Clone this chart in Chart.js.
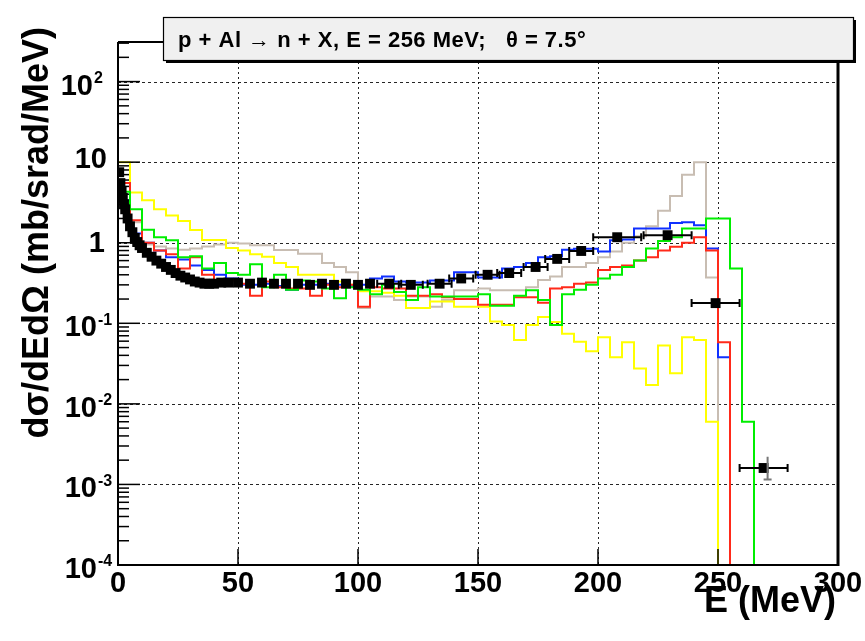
<!DOCTYPE html>
<html>
<head>
<meta charset="utf-8">
<script src="https://cdn.jsdelivr.net/npm/chart.js@4/dist/chart.umd.min.js"></script>
<style>
html,body{margin:0;padding:0;background:#fff;}
#wrap{width:865px;height:641px;position:relative;}
</style>
</head>
<body>
<div id="wrap"><canvas id="c" width="865" height="641"></canvas></div>
<script>
// ---------------- data ----------------
const binEdges = [0,5,10,15,20,25,30,35,40,45,50,55,60,65,70,75,80,85,90,95,100,105,110,115,120,125,130,135,140,145,150,155,160,165,170,175,180,185,190,195,200,205,210,215,220,225,230,235,240,245,250,255,260,265];

const yellowVals = [10,4.2,3.36,2.6,2.18,1.86,1.44,1.08,1.08,0.86,0.8,0.72,0.67,0.56,0.50,0.40,0.40,0.40,0.33,0.30,0.25,0.25,0.24,0.22,0.155,0.155,0.186,0.186,0.16,0.16,0.16,0.105,0.095,0.062,0.095,0.12,0.104,0.074,0.059,0.045,0.067,0.038,0.058,0.0275,0.0172,0.053,0.024,0.067,0.062,0.006];
const tanVals = [3.0,1.8,0.95,0.9,0.85,0.82,0.85,0.9,0.95,1.0,0.98,0.93,0.93,0.81,0.81,0.73,0.73,0.56,0.50,0.43,0.155,0.215,0.215,0.194,0.215,0.215,0.16,0.194,0.258,0.258,0.27,0.258,0.258,0.258,0.28,0.344,0.38,0.50,0.50,0.56,0.66,0.78,1.0,1.2,1.6,2.5,3.8,7,10,0.37];
const redVals = [5.5,1.9,1.0,0.8,0.72,0.48,0.66,0.40,0.34,0.34,0.31,0.22,0.33,0.28,0.27,0.27,0.22,0.30,0.28,0.30,0.16,0.28,0.27,0.27,0.22,0.22,0.23,0.21,0.20,0.20,0.17,0.17,0.17,0.21,0.21,0.18,0.27,0.28,0.31,0.32,0.46,0.50,0.52,0.60,0.66,0.80,0.89,1.0,1.17,0.8,0.058];
const blueVals = [3.36,1.3,1.0,0.8,0.66,0.62,0.52,0.46,0.40,0.36,0.30,0.30,0.31,0.29,0.26,0.30,0.30,0.31,0.30,0.29,0.30,0.36,0.38,0.33,0.32,0.32,0.34,0.34,0.43,0.43,0.37,0.37,0.48,0.50,0.56,0.66,0.68,0.82,0.84,0.84,0.78,1.07,1.1,1.5,1.5,1.5,1.76,1.8,1.65,0.85,0.038];
const greenVals = [4.3,2.6,1.45,1.17,1.07,0.66,0.68,0.48,0.56,0.42,0.40,0.54,0.28,0.40,0.26,0.34,0.33,0.27,0.205,0.28,0.26,0.23,0.30,0.245,0.194,0.28,0.215,0.215,0.215,0.215,0.23,0.165,0.165,0.22,0.258,0.194,0.095,0.23,0.26,0.30,0.36,0.40,0.50,0.60,0.85,1.05,1.17,1.5,1.5,2.0,2.0,0.48,0.006];

const dataE   = [0.5,1,1.5,2,2.5,3,4,5,6,7,8,9,10,12,14,16,18,20,22,24,26,28,30,32,34,36,38,40,43,46,50,55,60,65,70,75,80,85,90,95,100,105,113,122,134,143,154,163,174,183,193,208,229,249,269];
const dataV   = [7.5,5.5,4.4,3.6,3.0,2.6,2.0,1.6,1.35,1.15,1.02,0.93,0.86,0.75,0.67,0.6,0.55,0.5,0.46,0.42,0.39,0.37,0.35,0.33,0.32,0.31,0.31,0.31,0.32,0.32,0.32,0.31,0.32,0.31,0.31,0.31,0.30,0.31,0.30,0.31,0.30,0.31,0.31,0.30,0.31,0.36,0.40,0.42,0.50,0.63,0.79,1.17,1.24,0.178,0.0016];
const dataXErr= [0,0,0,0,0,0,0,0,0,0,0,0,0,0,0,0,0,0,0,0,0,0,0,0,0,0,0,0,0,0,0,0,0,0,0,0,0,0,0,0,0,0,5,5,5,5,5,5,5,5,5,10,10,10,10];
const dataYLo = [null,null,null,null,null,null,null,null,null,null,null,null,null,null,null,null,null,null,null,null,null,null,null,null,null,null,null,null,null,null,null,null,null,null,null,null,null,null,null,null,null,null,null,null,null,null,null,null,null,null,null,null,null,null,0.00115];
const dataYHi = [null,null,null,null,null,null,null,null,null,null,null,null,null,null,null,null,null,null,null,null,null,null,null,null,null,null,null,null,null,null,null,null,null,null,null,null,null,null,null,null,null,null,null,null,null,null,null,null,null,null,null,null,null,null,0.0022];

const xTickValues = [0,50,100,150,200,250,300];
const yDecadeExps = [-4,-3,-2,-1,0,1,2];
const titleText = 'p + Al \u2192 n + X, E = 256 MeV;   \u03B8 = 7.5\u00B0';
const yTitle = 'd\u03C3/dEd\u03A9 (mb/srad/MeV)';
const xTitle = 'E (MeV)';

// ---------------- helpers ----------------
const FONT = '"Liberation Sans", Arial, Helvetica, sans-serif';
const FLOOR = 1e-6;
function histPoints(vals) {
  const pts = [];
  let last = -1;
  vals.forEach((v, i) => { if (v != null) { pts.push({x: binEdges[i], y: v}); last = i; } });
  pts.push({x: binEdges[last + 1], y: vals[last]});
  pts.push({x: binEdges[last + 1], y: FLOOR});
  return pts;
}
function histDs(vals, color, order, width) {
  return {type: 'line', data: histPoints(vals), borderColor: color, borderWidth: width || 2,
          stepped: true, pointRadius: 0, fill: false, order: order, clip: 0, tension: 0};
}

const decorPlugin = {
  id: 'decor',
  beforeDatasetsDraw(chart) {
    const ctx = chart.ctx, a = chart.chartArea;
    const xs = chart.scales.x, ys = chart.scales.y;
    ctx.save();
    ctx.strokeStyle = 'rgba(0,0,0,0.85)';
    ctx.lineWidth = 1;
    ctx.setLineDash([3, 3]);
    yDecadeExps.forEach(e => {
      if (e === -4) return;
      const y = Math.round(ys.getPixelForValue(Math.pow(10, e))) + 0.5;
      ctx.beginPath(); ctx.moveTo(a.left, y); ctx.lineTo(a.right, y); ctx.stroke();
    });
    ctx.setLineDash([2, 3]);
    xTickValues.forEach(v => {
      if (v === 0 || v === 300) return;
      const x = Math.round(xs.getPixelForValue(v)) + 0.5;
      ctx.beginPath(); ctx.moveTo(x, a.top); ctx.lineTo(x, a.bottom); ctx.stroke();
    });
    ctx.restore();
  },
  afterDatasetsDraw(chart) {
    const ctx = chart.ctx, a = chart.chartArea;
    const xs = chart.scales.x, ys = chart.scales.y;
    ctx.save();
    ctx.lineWidth = 2;
    dataE.forEach((e, i) => {
      const px = xs.getPixelForValue(e), py = ys.getPixelForValue(dataV[i]);
      if (dataXErr[i] > 0) {
        const x1 = xs.getPixelForValue(e - dataXErr[i]), x2 = xs.getPixelForValue(e + dataXErr[i]);
        ctx.strokeStyle = '#000';
        ctx.beginPath(); ctx.moveTo(x1, py); ctx.lineTo(x2, py);
        ctx.moveTo(x1, py - 4); ctx.lineTo(x1, py + 4);
        ctx.moveTo(x2, py - 4); ctx.lineTo(x2, py + 4);
        ctx.stroke();
      }
      if (dataYLo[i] != null) {
        const y1 = ys.getPixelForValue(dataYLo[i]), y2 = ys.getPixelForValue(dataYHi[i]);
        ctx.strokeStyle = '#777';
        ctx.beginPath(); ctx.moveTo(px + 4, y1); ctx.lineTo(px + 4, y2);
        ctx.moveTo(px, y1); ctx.lineTo(px + 8, y1);
        ctx.stroke();
      }
    });
    ctx.restore();
  },
  afterDraw(chart) {
    const ctx = chart.ctx, a = chart.chartArea;
    const xs = chart.scales.x, ys = chart.scales.y;
    ctx.save();
    ctx.setLineDash([]);
    ctx.strokeStyle = '#000';
    ctx.lineWidth = 2;
    ctx.beginPath();
    ctx.moveTo(a.left, a.top); ctx.lineTo(a.right, a.top);
    ctx.moveTo(a.left, a.top); ctx.lineTo(a.left, a.bottom); ctx.lineTo(a.right, a.bottom);
    ctx.stroke();
    ctx.lineWidth = 3;
    ctx.beginPath(); ctx.moveTo(a.right, a.top); ctx.lineTo(a.right, a.bottom + 1); ctx.stroke();
    ctx.lineWidth = 1.5;
    yDecadeExps.forEach(e => {
      const base = Math.pow(10, e);
      const y = ys.getPixelForValue(base);
      ctx.beginPath(); ctx.moveTo(a.left, y); ctx.lineTo(a.left + 22, y); ctx.stroke();
      for (let m = 2; m <= 9; m++) {
        const v = base * m;
        if (v > ys.max) break;
        const ym = ys.getPixelForValue(v);
        ctx.beginPath(); ctx.moveTo(a.left, ym); ctx.lineTo(a.left + 11, ym); ctx.stroke();
      }
    });
    xTickValues.forEach(v => {
      const x = xs.getPixelForValue(v);
      ctx.beginPath(); ctx.moveTo(x, a.bottom); ctx.lineTo(x, a.bottom - 16); ctx.stroke();
    });
    ctx.fillStyle = '#000';
    ctx.font = 'bold 29px ' + FONT;
    ctx.textAlign = 'center'; ctx.textBaseline = 'middle';
    xTickValues.forEach(v => {
      ctx.fillText(String(v), xs.getPixelForValue(v), a.bottom + 19);
    });
    yDecadeExps.forEach(e => {
      const y = ys.getPixelForValue(Math.pow(10, e));
      ctx.textBaseline = 'middle';
      ctx.font = 'bold 29px ' + FONT;
      if (e === 0) {
        ctx.textAlign = 'right'; ctx.fillText('1', a.left - 13, y + 1);
      } else if (e === 1) {
        ctx.textAlign = 'right'; ctx.fillText('10', a.left - 11, y - 2);
      } else {
        const right = e > 0 ? a.left - 25 : a.left - 21;
        ctx.textAlign = 'right'; ctx.fillText('10', right, y + 5);
        ctx.font = 'bold 16px ' + FONT;
        ctx.textAlign = 'left';
        ctx.fillText(e > 0 ? String(e) : '-' + String(-e), right + 1, y - 3);
      }
    });
    ctx.font = 'bold 36px ' + FONT;
    ctx.textAlign = 'right'; ctx.textBaseline = 'middle';
    ctx.fillText(xTitle, a.right - 2, a.bottom + 37);
    ctx.save();
    ctx.translate(38, 27);
    ctx.rotate(-Math.PI / 2);
    ctx.textAlign = 'right';
    ctx.fillText(yTitle, 0, 0);
    ctx.restore();
    const bx = 163, by = 17, bw = 690, bh = 43;
    ctx.fillStyle = '#000';
    ctx.fillRect(bx + 3, by + 3, bw, bh);
    ctx.fillStyle = '#f0f0f0';
    ctx.fillRect(bx, by, bw, bh);
    ctx.lineWidth = 1.2;
    ctx.strokeStyle = '#000';
    ctx.strokeRect(bx + 0.5, by + 0.5, bw, bh);
    ctx.fillStyle = '#000';
    ctx.font = 'bold 22px ' + FONT;
    if ('letterSpacing' in ctx) ctx.letterSpacing = '0.5px';
    ctx.textAlign = 'left'; ctx.textBaseline = 'middle';
    ctx.fillText(titleText, 178, 41);
    ctx.restore();
  }
};

new Chart(document.getElementById('c'), {
  type: 'line',
  data: {
    datasets: [
      {type: 'line', data: dataE.map((e, i) => ({x: e, y: dataV[i]})), showLine: false,
       pointStyle: 'rect', pointRadius: 7, pointBackgroundColor: '#000', pointBorderColor: '#000',
       pointBorderWidth: 0, order: 0, clip: 0},
      histDs(greenVals, '#00ee00', 1),
      histDs(redVals, '#ff2a1a', 2),
      histDs(blueVals, '#1030ff', 3),
      histDs(yellowVals, '#ffff00', 4),
      histDs(tanVals, '#c8bdb2', 5)
    ]
  },
  options: {
    responsive: false, animation: false, events: [],
    layout: {padding: {left: 0, right: 27, top: 42, bottom: 0}},
    plugins: {legend: {display: false}, tooltip: {enabled: false}, title: {display: false}},
    scales: {
      x: {type: 'linear', min: 0, max: 300, position: 'bottom',
          afterFit: s => { s.height = 76; },
          ticks: {display: false, stepSize: 50},
          grid: {display: false}, border: {display: false}},
      y: {type: 'logarithmic', min: 1e-4, max: 310, position: 'left',
          afterFit: s => { s.width = 118; },
          afterBuildTicks: s => { s.ticks = yDecadeExps.map(e => ({value: Math.pow(10, e)})); },
          ticks: {display: false},
          grid: {display: false}, border: {display: false}}
    }
  },
  plugins: [decorPlugin]
});
</script>
</body>
</html>
